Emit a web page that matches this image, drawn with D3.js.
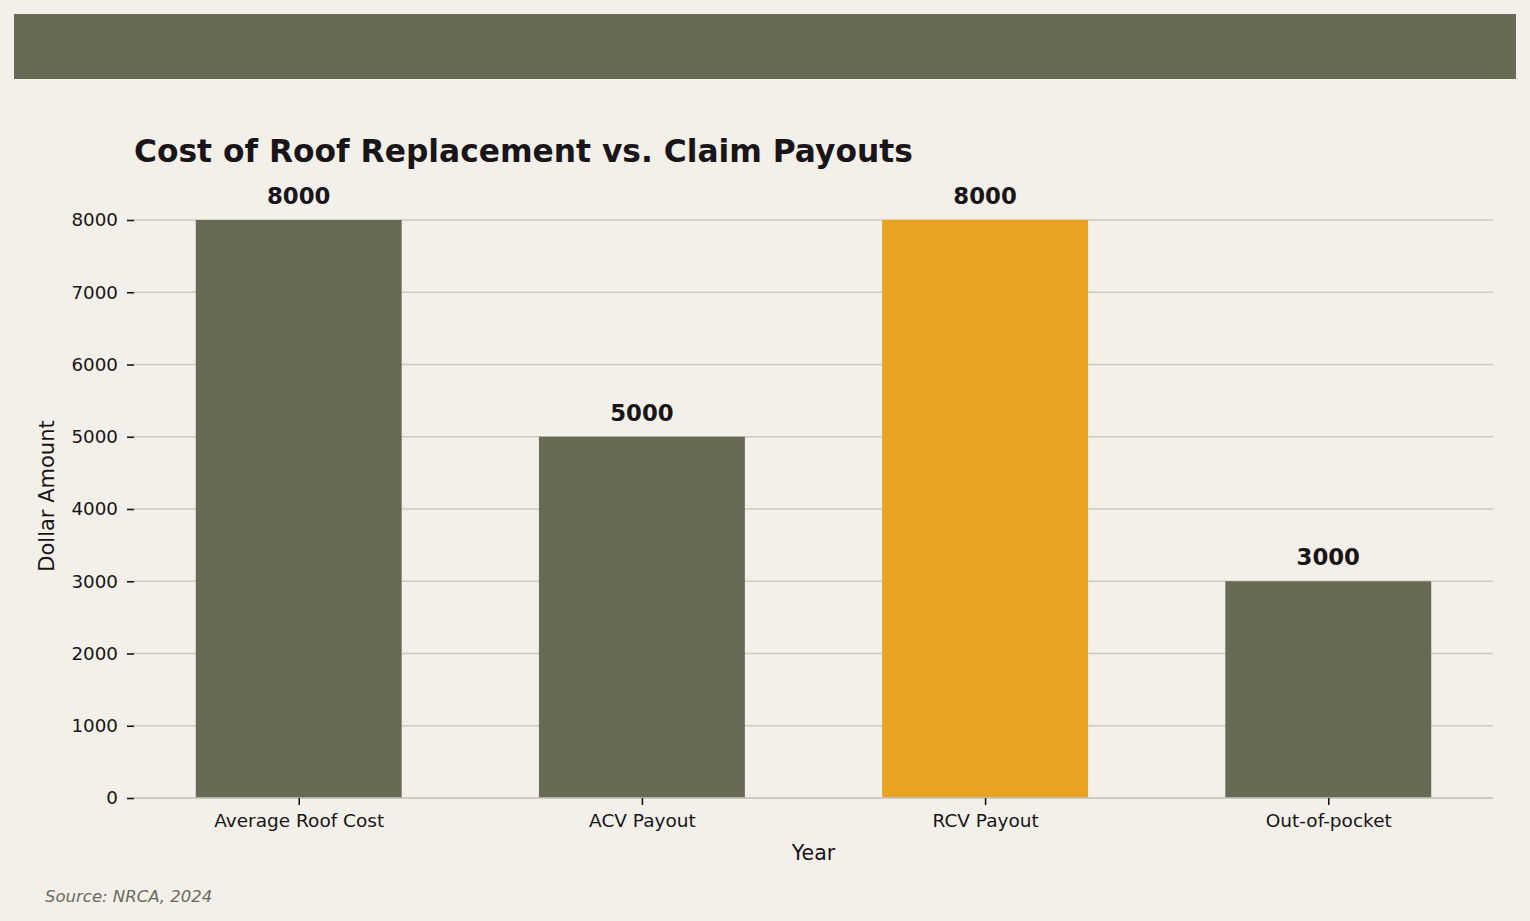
<!DOCTYPE html>
<html><head><meta charset="utf-8">
<script src="https://cdn.jsdelivr.net/npm/d3@7/dist/d3.min.js"></script>
<style>
html,body{margin:0;padding:0;background:#f2f0e9;}
svg{display:block;font-family:"DejaVu Sans",sans-serif;}
</style></head>
<body>
<svg id="chart" width="1530" height="921"></svg>
<script>
const categories = ["Average Roof Cost", "ACV Payout", "RCV Payout", "Out-of-pocket"];
const values = [8000, 5000, 8000, 3000];
const highlight = [false, false, true, false];
const yTicks = [0, 1000, 2000, 3000, 4000, 5000, 6000, 7000, 8000];

const svg = d3.select("#chart");
svg.append("rect").attr("x",0).attr("y",0).attr("width",1530).attr("height",921).attr("fill","#f2f0e9");
svg.append("rect").attr("x",14).attr("y",14).attr("width",1502).attr("height",65).attr("fill","#676b55");

const L = 134, R = 1493, T = 220, B = 798;
// matplotlib-like: bars at 0..3, width 0.6, margins 5%
const x = d3.scaleLinear().domain([-0.48, 3.48]).range([L, R]);
const y = d3.scaleLinear().domain([0, 8000]).range([B, T]);

const g = svg.append("g");
// gridlines
g.selectAll("line.grid").data(yTicks).join("line")
  .attr("x1", L).attr("x2", R)
  .attr("y1", d => y(d)).attr("y2", d => y(d))
  .attr("stroke", "#cdcabb").attr("stroke-width", 1.6);

// bars
g.selectAll("rect.bar").data(values).join("rect")
  .attr("x", (d,i) => x(i - 0.3))
  .attr("width", (d,i) => x(i + 0.3) - x(i - 0.3))
  .attr("y", d => y(d))
  .attr("height", d => B - y(d))
  .attr("fill", (d,i) => highlight[i] ? "#e8a323" : "#676b55");

// value labels
g.selectAll("text.val").data(values).join("text")
  .attr("x", (d,i) => x(i)).attr("y", d => y(d) - 16)
  .attr("text-anchor", "middle").attr("font-weight", "bold").attr("font-size", 22.8)
  .attr("fill", "#1a1518").text(d => d);

// y axis
const yAxis = d3.axisLeft(y).tickValues(yTicks).tickSize(7).tickPadding(9).tickFormat(d3.format("d"));
const ya = svg.append("g").attr("transform", `translate(${L},0)`).call(yAxis);
ya.select(".domain").remove();
ya.selectAll(".tick line").attr("stroke", "#1a1518").attr("stroke-width", 1.6);
ya.selectAll(".tick text").attr("font-size", 18.3).attr("fill", "#1a1518").attr("font-family", "DejaVu Sans");

// x axis
const xa = svg.append("g").attr("transform", `translate(0,${B})`)
  .call(d3.axisBottom(x).tickValues([0,1,2,3]).tickSize(7).tickPadding(9).tickFormat(i => categories[i]));
xa.select(".domain").attr("stroke", "#cdcabb").attr("stroke-width", 1.6).attr("d", `M${L},0H${R}`);
xa.selectAll(".tick line").attr("stroke", "#1a1518").attr("stroke-width", 1.6);
xa.selectAll(".tick text").attr("font-size", 18.5).attr("fill", "#1a1518").attr("font-family", "DejaVu Sans");

// title
svg.append("text").attr("x", L).attr("y", 162).attr("font-size", 31.3).attr("font-weight", "bold")
  .attr("fill", "#1a1518").text("Cost of Roof Replacement vs. Claim Payouts");

// axis labels
svg.append("text").attr("x", (L + R) / 2).attr("y", 860).attr("text-anchor", "middle")
  .attr("font-size", 20.5).attr("fill", "#1a1518").text("Year");
svg.append("text").attr("transform", `translate(54,${(T + B) / 2 - 13}) rotate(-90)`).attr("text-anchor", "middle")
  .attr("font-size", 21).attr("fill", "#1a1518").text("Dollar Amount");

// source
svg.append("text").attr("x", 45).attr("y", 902).attr("font-size", 16.5).attr("font-style", "italic")
  .attr("fill", "#6b6b5c").text("Source: NRCA, 2024");
</script>
</body></html>
